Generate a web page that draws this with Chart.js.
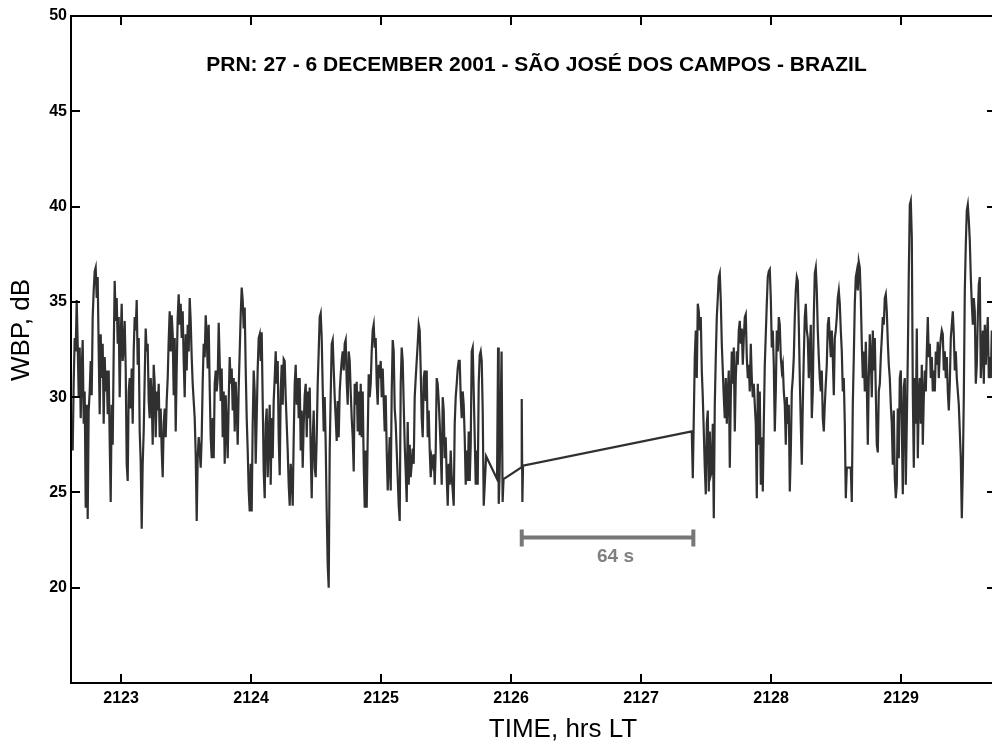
<!DOCTYPE html>
<html>
<head>
<meta charset="utf-8">
<script src="https://cdn.jsdelivr.net/npm/chart.js@4.4.0/dist/chart.umd.min.js"></script>
<style>
  html, body { margin: 0; padding: 0; background: #fff; overflow: hidden; }
  #wrap { width: 1000px; height: 749px; }
</style>
</head>
<body>
<div id="wrap"><canvas id="chart1" width="1000" height="749"></canvas></div>
<script>
const titleText = "PRN: 27 - 6 DECEMBER 2001 - SÃO JOSÉ DOS CAMPOS - BRAZIL";
const xTitle = "TIME, hrs LT";
const yTitle = "WBP, dB";
const xTicks = [2123, 2124, 2125, 2126, 2127, 2128, 2129];
const yTicks = [20, 25, 30, 35, 40, 45, 50];

// samples are evenly spaced in time inside each run
const sampleStep = 1 / 130;

// first run of samples, before the data gap
const run1Start = 2122.628;
const run1Wbp = [
  27.2, 30.8, 33.1, 32.4, 35.1, 32.8, 30, 32.6, 28.9, 31.4,
  33, 28.6, 30.3, 24.2, 29.6, 23.6, 29.3, 30.3, 31.9, 30.1,
  34.2, 35.6, 36.6, 36.8, 35.2, 36.3, 32.4, 29.1, 33.3, 31,
  32.8, 28.6, 32.1, 30.3, 31.4, 29.1, 31.4, 27.7, 24.5, 29.6,
  27.5, 32.4, 36.1, 34, 35.2, 32.8, 34.2, 30, 33.1, 34.9,
  31.9, 32.6, 34, 31.5, 26.5, 25.6, 30.3, 31, 29.4, 31.5,
  28.6, 32.4, 34.2, 33.5, 35.1, 31.7, 33.1, 28.2, 26.6, 23.1,
  26.5, 28.2, 31, 33.6, 32.4, 32.8, 29.8, 28.9, 31, 30,
  27.5, 31.7, 30.7, 27.9, 30.3, 29.3, 30.7, 27.9, 29.4, 27.2,
  25.8, 28.6, 29.4, 27.9, 29.8, 31, 33, 34.5, 32.4, 34.3,
  33.3, 30.1, 33.1, 28.2, 31.5, 34.2, 35.4, 33.8, 34.9, 33.1,
  34.5, 31.9, 30, 33.3, 31.4, 33.8, 32.4, 35.2, 34, 32.1,
  30.7, 29.8, 28.9, 27, 23.5, 26.8, 27.9, 27.2, 26.3, 27.9,
  30.8, 32.8, 32.1, 34.3, 33.3, 31.5, 33.8, 30.5, 27.9, 26.8,
  28.9, 26.8, 30.7, 31.4, 30.3, 31,
  33.9, 31.9, 29.8, 31.5, 27.9, 30.3, 26.5, 30.1, 28.4, 26.8,
  29.8, 32.1, 30.7, 31.5, 29.3, 31, 28.2, 30.8, 29.4, 27.5,
  30.5, 32.4, 34.3, 35.75, 35.1, 33.6, 34.7, 31.5, 28.9, 27.2,
  25.1, 24, 26.5, 24, 28.6, 31.4, 30.3, 26.5, 28.9, 31.5,
  33.1, 33.3, 31.9, 33.4, 29.8, 26.1, 24.7, 28.6, 29.4, 25.8,
  27.9, 29.6, 25.4, 28.9, 26.8, 29.8, 31, 32.4, 30.7, 31.9,
  27.9, 25.9, 30.3, 31.7, 29.6, 32, 31.9, 30, 28.6, 27.2,
  25.4, 24.3, 26.5, 25.8, 24.3, 27.9, 30.7, 31.7, 29.6, 31,
  28.9, 31, 27.2, 29.3, 26.3, 28.6, 30.1, 30.7, 27.9, 30.3,
  28.9, 30.5, 27.2, 24.7, 27.9, 29.3, 26.3, 25.8, 27.9, 30.7,
  32.4, 34.2, 34.4, 33.1, 30.5, 28.2, 30, 27.5, 24, 21.2,
  20, 27.2, 30.1, 32.8, 33, 31.5, 30, 28.9, 27.7, 29.8,
  27.9, 30.3, 31.2, 31.9, 32.4, 31.4, 32.8, 33, 30.8, 29.6,
  32.4, 31.9, 30.3, 28.9, 27.9, 26.1, 30.7, 29.6, 30.8, 28.2,
  30.3, 28, 30.7, 27.9, 30.3, 26.5, 24.2, 27.2, 24.2, 27.9,
  31.2, 30, 30.7, 32.4, 33.5,
  33.8, 32.6, 33.1, 30.7, 29.6, 31.7, 31, 31.9, 30, 31.5,
  29.8, 28.2, 30.1, 27.2, 25.1, 26.5, 27.9, 25.1, 30.3, 33,
  32.4, 29.4, 28.6, 27.2, 25.8, 24.3, 23.5, 30.7, 32.6, 31.9,
  29.6, 27.5, 26.1, 24.5, 28.7, 25.4, 27.5, 25.8, 26.5, 27.3,
  26.5, 30, 31, 31.9, 32.8, 33.8, 33.5, 31.4, 28.9, 27.9,
  31, 31.4, 29.8, 31.4, 27.9, 29.3, 27.2, 25.8, 26.8, 26.5,
  27, 25.4, 27.2, 31, 30.7, 29.8, 28.6, 27.2, 25.4, 30,
  29.3, 26.8, 27.9, 25.8, 24.3, 26.5, 25.4, 27.2, 25.8, 25.1,
  24.3, 28.6, 30, 30.7, 31.5, 31.9, 31.9, 30, 28.9, 30.3,
  29.6, 27.9, 25.4, 27.2, 25.6, 28.2, 25.6, 27.5, 32.4, 32.6,
  30.3, 27.9, 25.4, 27.2, 25.4, 30.7, 32.2, 32.4, 31.9, 29.3,
  24.3
];

// sparse samples around the gap
const tailTime = [2125.808, 2125.892, 2125.900, 2125.905, 2125.912, 2125.927,
  2125.935, 2125.942, 2126.077, 2126.082, 2126.087, 2126.092];
const tailWbp = [26.9, 25.7, 32.6, 24.4, 26.0, 32.4, 24.5, 25.7, 26.3, 29.9, 24.5, 26.4];

// second run of samples, after the gap
const run2Start = 2127.390;
const run2Wbp = [
  28.2, 25.75,
  28.9, 32.1, 33.5, 31, 34.9, 34.5, 33.5, 34.2, 31.4, 30,
  28.2, 26.3, 24.9, 28.6, 29.3, 25.05, 28.2, 25.9, 26.1, 28.6,
  23.65, 29.6, 32.1, 34.2, 35.2, 36.3, 36.5, 35.05, 32.8, 31.4,
  30, 28.9, 31, 28.6, 30.3, 31.4, 26.3, 30, 32.4, 30.7,
  32.6, 28.2, 31, 32.4, 31.7, 33.5, 34, 32.8, 33.6, 31.7,
  33.1, 34.2, 34.35, 32.1, 31, 31.7, 30.3, 32.8, 31, 30,
  30.7, 29.6, 28.6, 24.7, 30.7, 27.5, 30.3, 25.4, 27.9, 25.05,
  28.6, 31.7, 33.3, 34.9, 36.3, 36.6, 36.7, 35.2, 32.6, 33.5,
  31.7, 28.2, 30.3, 33.5, 32.4, 34.2, 33.8, 32.1, 31.4, 31.7,
  30.3, 29.6, 27.5, 30, 28.6, 29.6, 25.05, 27.1, 30.3, 31,
  32.1, 34.2, 35.6, 36.3, 36.1, 33.8, 31, 28.6, 26.45, 29.6,
  32.1, 34.2, 34.9, 33.5, 33.1, 31, 32.4, 33.8, 28.9, 30.3,
  34.2, 36.5, 36.8, 35.6, 33.5, 32.1, 31, 30.3, 31.4, 28.9,
  28.2, 29.6, 30.7, 31.7, 33.8, 34.2, 33.1, 32.1, 33.5, 32.1,
  30.1, 33.1, 33.5, 34.2, 35.2, 35.6, 34.9,
  33.5, 32.4, 30.3, 31, 28.6, 24.7, 26.3, 26.3, 26.3, 26.3,
  26.3, 24.5, 29.6, 32.1, 34.9, 36.3, 36.6, 35.6, 37.1, 36.8,
  35.2, 32.8, 31, 32.4, 30.3, 32.9, 30.7, 27.5, 31, 33.3,
  32.1, 30, 33.5, 31.4, 33.1, 30.3, 27.5, 27.1, 30.3, 30.7,
  32.1, 33.1, 34.2, 33.8, 35.2, 35.4, 34.5, 32.9, 31.7, 31,
  29.6, 28.6, 26.45, 29.3, 25.75, 24.7, 25.4, 29.4, 26.8, 31,
  31.4, 28.6, 24.9, 30.5, 31, 25.4, 28.6, 32.1, 36.5, 40.1,
  40.3, 38.4, 30.3, 26.3, 31, 28.6, 33.6, 26.8, 30, 31,
  28.6, 31.7, 27.5, 30, 31.4, 30.3, 32.4, 34.2, 32.1, 32.8,
  31, 32.1, 30.3, 31.4, 30.3, 32.4, 31.7, 32.9, 31, 32.4,
  33.1, 33.5, 33.3, 31.4, 32.4, 31, 32.1, 30.3, 29.3, 30.7,
  33.1, 33.8, 34.5, 33.3, 31.4, 32.4, 31, 30.3, 29.6, 28.2,
  26.8, 23.65, 26.1, 30, 35.6, 38, 39.8, 40.1, 39.3, 38.2,
  36.3, 34.9, 33.8, 35.2, 34.5, 30.7, 31.7, 34.2, 35.9, 36.3,
  31, 32.4, 33.5, 30.7, 33.8, 31.7, 33.1, 34.2, 31, 32.1,
  31, 33.5
];

// "64 s" scale bar
const spanStart = 2126.082;
const spanEnd = 2127.402;
const spanLevel = 22.63;
const spanLabel = "64 s";

const points = [];
run1Wbp.forEach((v, i) => points.push({ x: run1Start + i * sampleStep, y: v }));
tailTime.forEach((t, i) => points.push({ x: t, y: tailWbp[i] }));
run2Wbp.forEach((v, i) => points.push({ x: run2Start + i * sampleStep, y: v }));

const FONT = '"Liberation Sans", Arial, Helvetica, sans-serif';

const framePlugin = {
  id: "frame",
  afterDatasetsDraw(chart) {
    const { ctx, chartArea: a } = chart;
    const x = chart.scales.x, y = chart.scales.y;
    ctx.save();
    ctx.strokeStyle = "#000";
    ctx.lineWidth = 2;
    ctx.strokeRect(a.left, a.top, a.right - a.left, a.bottom - a.top);

    // inward tick marks on all four sides
    const tl = 9;
    ctx.beginPath();
    xTicks.forEach(v => {
      const px = Math.round(x.getPixelForValue(v));
      ctx.moveTo(px, a.bottom); ctx.lineTo(px, a.bottom - tl);
      ctx.moveTo(px, a.top); ctx.lineTo(px, a.top + tl);
    });
    yTicks.forEach(v => {
      const py = Math.round(y.getPixelForValue(v));
      ctx.moveTo(a.left, py); ctx.lineTo(a.left + tl, py);
      ctx.moveTo(a.right, py); ctx.lineTo(a.right - tl, py);
    });
    ctx.stroke();

    // scale bar
    const x0 = x.getPixelForValue(spanStart);
    const x1 = x.getPixelForValue(spanEnd);
    const yb = y.getPixelForValue(spanLevel);
    ctx.strokeStyle = "#777";
    ctx.lineWidth = 4;
    ctx.beginPath();
    ctx.moveTo(x0, yb); ctx.lineTo(x1, yb);
    ctx.moveTo(x0, yb - 8); ctx.lineTo(x0, yb + 9);
    ctx.moveTo(x1, yb - 8); ctx.lineTo(x1, yb + 9);
    ctx.stroke();
    ctx.fillStyle = "#808080";
    ctx.font = "bold 19px " + FONT;
    ctx.textAlign = "center";
    ctx.textBaseline = "middle";
    ctx.fillText(spanLabel, (x0 + x1) / 2 + 8, yb + 19);

    // titles
    ctx.fillStyle = "#000";
    ctx.font = "bold 21px " + FONT;
    ctx.fillText(titleText, (a.left + a.right) / 2 + 3, 65);
    ctx.font = "26px " + FONT;
    ctx.fillText(xTitle, 563, 730);
    ctx.translate(22, 330);
    ctx.rotate(-Math.PI / 2);
    ctx.fillText(yTitle, 0, 0);
    ctx.restore();
  }
};

const ctx1 = document.getElementById("chart1").getContext("2d");
const myChart1 = new Chart(ctx1, {
  type: "line",
  data: {
    datasets: [{
      data: points,
      borderColor: "#303030",
      borderWidth: 2.2,
      pointRadius: 0,
      tension: 0,
      fill: false
    }]
  },
  options: {
    responsive: false,
    animation: false,
    devicePixelRatio: 1,
    layout: { padding: { top: 16, right: 4, left: 0, bottom: 0 } },
    plugins: { legend: { display: false }, tooltip: { enabled: false } },
    scales: {
      x: {
        type: "linear",
        min: 2122.615,
        max: 2129.73,
        afterBuildTicks: s => { s.ticks = xTicks.map(v => ({ value: v })); },
        afterFit: s => { s.height = 66; },
        grid: { display: false, drawTicks: false },
        border: { display: false },
        ticks: {
          padding: 6,
          color: "#000",
          font: { family: FONT, size: 16, weight: "bold" },
          maxRotation: 0,
          callback: v => String(v)
        }
      },
      y: {
        min: 15,
        max: 50,
        afterBuildTicks: s => { s.ticks = yTicks.map(v => ({ value: v })); },
        afterFit: s => { s.width = 71; },
        grid: { display: false, drawTicks: false },
        border: { display: false },
        ticks: {
          padding: 4,
          color: "#000",
          font: { family: FONT, size: 16, weight: "bold" },
          callback: v => String(v)
        }
      }
    }
  },
  plugins: [framePlugin]
});
</script>
</body>
</html>
